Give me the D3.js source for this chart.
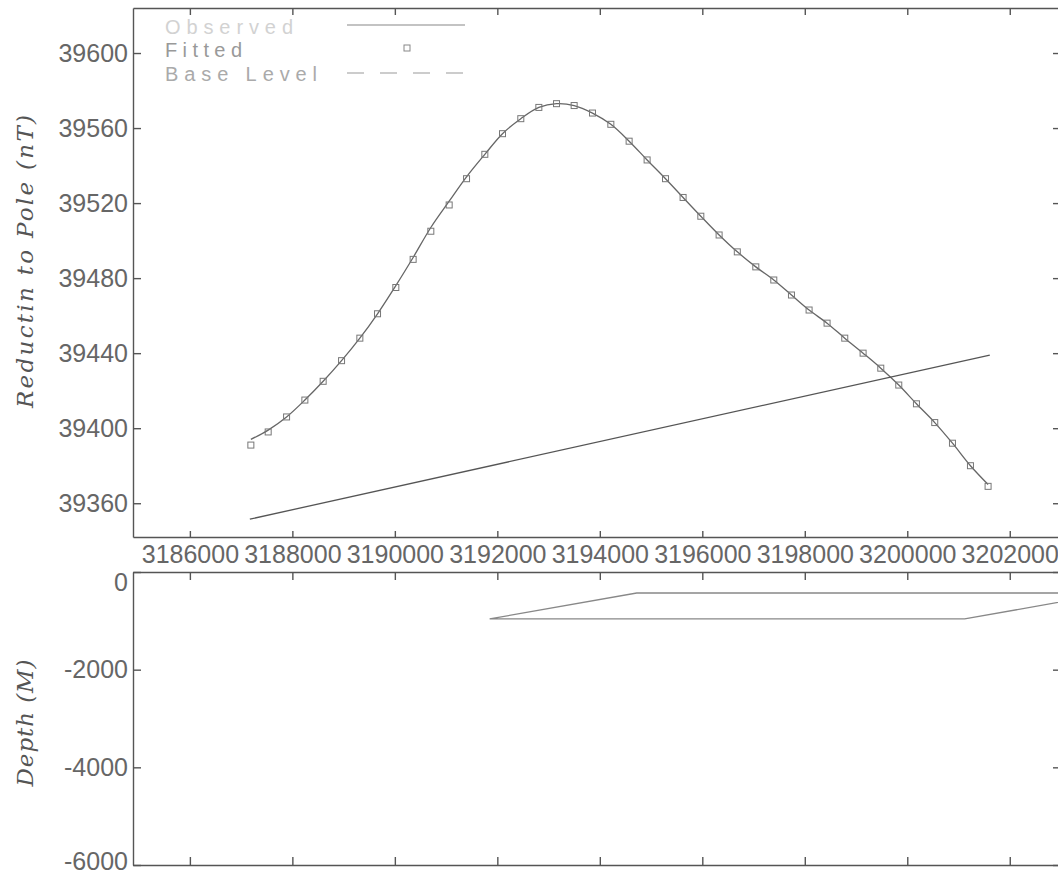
<!DOCTYPE html>
<html>
<head>
<meta charset="utf-8">
<script src="https://cdn.jsdelivr.net/npm/d3@7"></script>
<style>
	body { margin: 0; background: #fff; overflow: hidden; }
	.axis text { font-family: 'Liberation Sans', Arial, sans-serif; font-size: 25px; fill: #666; }
	.axis path, .axis line { stroke: #555; stroke-width: 1.4; }
	.title { font-family: 'DejaVu Serif', serif; font-style: italic; font-size: 23px; fill: #555; }
	.legend { font-family: 'Liberation Sans', Arial, sans-serif; font-size: 20px; }
</style>
</head>
<body>
<script>
// tick labels
const xTicks = [3186000, 3188000, 3190000, 3192000, 3194000, 3196000, 3198000, 3200000, 3202000]
const rtpTicks = [39360, 39400, 39440, 39480, 39520, 39560, 39600]
const depthTicks = [-6000, -4000, -2000, 0]

// station positions (m) and reduction to pole values (nT)
const stationX = [
	3187190, 3187528, 3187887, 3188244, 3188601, 3188960, 3189317, 3189662, 3190019, 3190357,
	3190702, 3191060, 3191399, 3191756, 3192101, 3192458, 3192810, 3193155, 3193499, 3193857,
	3194215, 3194572, 3194923, 3195282, 3195625, 3195971, 3196328, 3196683, 3197044, 3197395,
	3197740, 3198084, 3198435, 3198780, 3199138, 3199483, 3199834, 3200179, 3200536, 3200882,
	3201233, 3201577
]
const fitted = [
	39391, 39398, 39406, 39415, 39425, 39436, 39448, 39461, 39475, 39490,
	39505, 39519, 39533, 39546, 39557, 39565, 39571, 39573, 39572, 39568,
	39562, 39553, 39543, 39533, 39523, 39513, 39503, 39494, 39486, 39479,
	39471, 39463, 39456, 39448, 39440, 39432, 39423, 39413, 39403, 39392,
	39380, 39369
]
const observed = [
	39394, 39399, 39406, 39415, 39425, 39436, 39448, 39461, 39476, 39491,
	39507, 39521, 39534, 39546, 39557, 39565, 39571, 39573, 39572, 39568,
	39562, 39553, 39543, 39533, 39523, 39513, 39503, 39494, 39486, 39479,
	39471, 39463, 39456, 39448, 39440, 39432, 39423, 39413, 39403, 39392,
	39380, 39370
]

// base level
const baseX = [3187170, 3201610]
const baseY = [39351.5, 39439]

// model body (depth section)
const bodyX = [3191850, 3194720, 3203990, 3201120]
const bodyDepth = [-960, -430, -430, -960]

const width = 1058
const height = 875

const svg = d3
	.select('body')
	.append('svg')
	.attr('width', width)
	.attr('height', height)

const xscale = d3.scaleLinear().domain([3184890, 3203000]).range([133, 1061])
const yscale = d3.scaleLinear().domain([39342, 39624]).range([537, 8])
const dscale = d3.scaleLinear().domain([-6000, 0]).range([865, 572])

// top panel frame
svg.append('g').attr('class', 'axis').attr('transform', 'translate(0,8)')
	.call(d3.axisTop(xscale).tickValues(xTicks).tickSize(-7).tickSizeOuter(0).tickFormat(''))
svg.append('g').attr('class', 'axis').attr('transform', 'translate(0,537)')
	.call(d3.axisBottom(xscale).tickValues(xTicks).tickSize(-6).tickSizeOuter(0).tickPadding(8).tickFormat(d => String(d)))
svg.append('g').attr('class', 'axis').attr('transform', 'translate(133,0)')
	.call(d3.axisLeft(yscale).tickValues(rtpTicks).tickSize(-8).tickSizeOuter(0).tickPadding(5).tickFormat(d => String(d)))
svg.append('g').attr('class', 'axis').attr('transform', 'translate(1061,0)')
	.call(d3.axisRight(yscale).tickValues(rtpTicks).tickSize(-8).tickSizeOuter(0).tickFormat(''))

// bottom panel frame
svg.append('g').attr('class', 'axis').attr('transform', 'translate(0,572)')
	.call(d3.axisTop(xscale).tickValues(xTicks).tickSize(-8).tickSizeOuter(0).tickFormat(''))
svg.append('g').attr('class', 'axis').attr('transform', 'translate(0,865)')
	.call(d3.axisBottom(xscale).tickValues(xTicks).tickSize(-8).tickSizeOuter(0).tickFormat(''))
const g_depth = svg.append('g').attr('class', 'axis').attr('transform', 'translate(133,0)')
	.call(d3.axisLeft(dscale).tickValues(depthTicks).tickSize(-8).tickSizeOuter(0).tickPadding(5).tickFormat(d => String(d)))
// the 0 label sits just under the frame corner, -6000 a bit above the bottom
g_depth.selectAll('.tick').filter(d => d === 0).select('text').attr('dy', '0.75em')
g_depth.selectAll('.tick').filter(d => d === -6000).select('text').attr('dy', '0.16em')
svg.append('g').attr('class', 'axis').attr('transform', 'translate(1061,0)')
	.call(d3.axisRight(dscale).tickValues(depthTicks).tickSize(-8).tickSizeOuter(0).tickFormat(''))

// axis titles
svg.append('text').attr('class', 'title')
	.attr('transform', 'translate(33,261.5) rotate(-90)')
	.attr('text-anchor', 'middle')
	.attr('textLength', 293).attr('lengthAdjust', 'spacing')
	.text('Reductin to Pole (nT)')
svg.append('text').attr('class', 'title')
	.attr('transform', 'translate(33,723) rotate(-90)')
	.attr('text-anchor', 'middle')
	.attr('textLength', 127).attr('lengthAdjust', 'spacing')
	.text('Depth (M)')

// clip paths for the two panels
const defs = svg.append('defs')
defs.append('clipPath').attr('id', 'clipTop').append('rect')
	.attr('x', 133).attr('y', 8).attr('width', 928).attr('height', 529)
defs.append('clipPath').attr('id', 'clipBottom').append('rect')
	.attr('x', 133).attr('y', 572).attr('width', 928).attr('height', 293)

const plot = svg.append('g').attr('clip-path', 'url(#clipTop)')

// observed curve
const line = d3.line().x((d, i) => xscale(stationX[i])).y(d => yscale(d)).curve(d3.curveCatmullRom)
plot.append('path')
	.datum(observed)
	.attr('d', line)
	.attr('fill', 'none')
	.attr('stroke', '#666')
	.attr('stroke-width', 1.3)

// base level
plot.append('path')
	.datum(baseY)
	.attr('d', d3.line().x((d, i) => xscale(baseX[i])).y(d => yscale(d)))
	.attr('fill', 'none')
	.attr('stroke', '#555')
	.attr('stroke-width', 1.3)

// fitted squares
plot.selectAll('rect.fit')
	.data(fitted)
	.join('rect')
	.attr('class', 'fit')
	.attr('x', (d, i) => xscale(stationX[i]) - 3)
	.attr('y', d => yscale(d) - 3)
	.attr('width', 6)
	.attr('height', 6)
	.attr('fill', 'none')
	.attr('stroke', '#777')
	.attr('stroke-width', 1)

// body polygon
svg.append('g').attr('clip-path', 'url(#clipBottom)')
	.append('path')
	.datum(bodyDepth)
	.attr('d', d3.line().x((d, i) => xscale(bodyX[i])).y(d => dscale(d)).curve(d3.curveLinearClosed))
	.attr('fill', 'none')
	.attr('stroke', '#888')
	.attr('stroke-width', 1.3)

// legend
const legend = svg.append('g').attr('class', 'legend')
legend.append('text').attr('x', 165).attr('y', 34).attr('fill', '#d2d2d2')
	.attr('textLength', 128).attr('lengthAdjust', 'spacing').text('Observed')
legend.append('line').attr('x1', 347).attr('x2', 465).attr('y1', 25).attr('y2', 25)
	.attr('stroke', '#888').attr('stroke-width', 1.2)
legend.append('text').attr('x', 165).attr('y', 57).attr('fill', '#999')
	.attr('textLength', 77).attr('lengthAdjust', 'spacing').text('Fitted')
legend.append('rect').attr('x', 404).attr('y', 45).attr('width', 6).attr('height', 6)
	.attr('fill', 'none').attr('stroke', '#888')
legend.append('text').attr('x', 165).attr('y', 81).attr('fill', '#aaa')
	.attr('textLength', 152).attr('lengthAdjust', 'spacing').text('Base Level')
legend.append('line').attr('x1', 347).attr('x2', 465).attr('y1', 73).attr('y2', 73)
	.attr('stroke', '#999').attr('stroke-width', 1.2).attr('stroke-dasharray', '17,16')
</script>
</body>
</html>
